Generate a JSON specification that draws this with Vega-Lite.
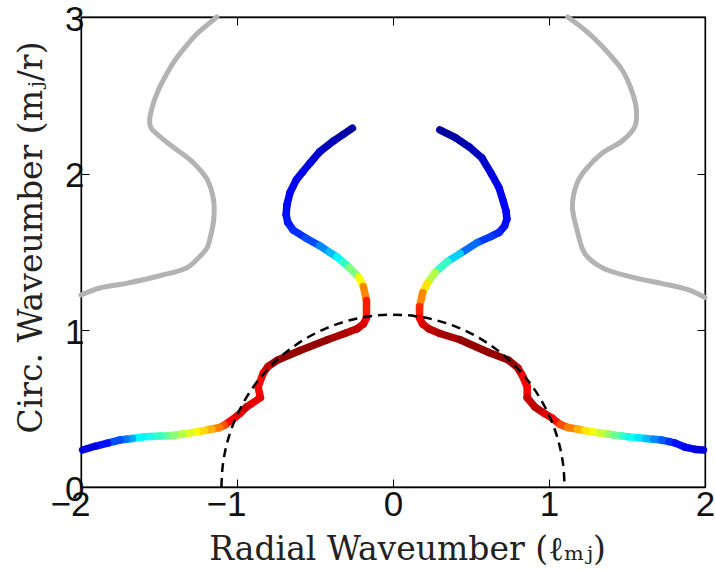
{
  "$schema": "https://vega.github.io/schema/vega-lite/v6.json",
  "autosize": "none",
  "width": 624,
  "height": 470,
  "padding": {"left": 81, "top": 17, "right": 10, "bottom": 84},
  "background": "white",
  "config": {
    "view": {"stroke": "black", "strokeWidth": 1.3},
    "axis": {
      "domainColor": "black", "domainWidth": 1.3,
      "tickColor": "black", "tickSize": -8, "tickWidth": 1,
      "labelFont": "Liberation Sans", "labelFontSize": 35, "labelColor": "#111", "labelFlush": false, "labelOverlap": false,
      "titleFont": "DejaVu Serif", "titleFontSize": 33, "titleFontWeight": "normal", "titleColor": "#222",
      "grid": false
    }
  },
  "datasets": {
    "gray": [
      {"s": "L", "i": 0, "x": -1.13, "y": 3.0},
      {"s": "L", "i": 1, "x": -1.19, "y": 2.95},
      {"s": "L", "i": 2, "x": -1.26, "y": 2.89},
      {"s": "L", "i": 3, "x": -1.33, "y": 2.81},
      {"s": "L", "i": 4, "x": -1.4, "y": 2.72},
      {"s": "L", "i": 5, "x": -1.46, "y": 2.62},
      {"s": "L", "i": 6, "x": -1.51, "y": 2.52},
      {"s": "L", "i": 7, "x": -1.545, "y": 2.42},
      {"s": "L", "i": 8, "x": -1.56, "y": 2.33},
      {"s": "L", "i": 9, "x": -1.55, "y": 2.29},
      {"s": "L", "i": 10, "x": -1.51, "y": 2.25},
      {"s": "L", "i": 11, "x": -1.41, "y": 2.17},
      {"s": "L", "i": 12, "x": -1.28, "y": 2.07},
      {"s": "L", "i": 13, "x": -1.19, "y": 1.96},
      {"s": "L", "i": 14, "x": -1.15, "y": 1.83},
      {"s": "L", "i": 15, "x": -1.15, "y": 1.7},
      {"s": "L", "i": 16, "x": -1.17, "y": 1.6},
      {"s": "L", "i": 17, "x": -1.19, "y": 1.53},
      {"s": "L", "i": 18, "x": -1.24, "y": 1.47},
      {"s": "L", "i": 19, "x": -1.32, "y": 1.4},
      {"s": "L", "i": 20, "x": -1.49, "y": 1.35},
      {"s": "L", "i": 21, "x": -1.71, "y": 1.3},
      {"s": "L", "i": 22, "x": -1.88, "y": 1.27},
      {"s": "L", "i": 23, "x": -2.0, "y": 1.225},
      {"s": "R", "i": 0, "x": 1.12, "y": 3.0},
      {"s": "R", "i": 1, "x": 1.25, "y": 2.9},
      {"s": "R", "i": 2, "x": 1.38, "y": 2.77},
      {"s": "R", "i": 3, "x": 1.47, "y": 2.66},
      {"s": "R", "i": 4, "x": 1.53, "y": 2.53},
      {"s": "R", "i": 5, "x": 1.56, "y": 2.41},
      {"s": "R", "i": 6, "x": 1.55, "y": 2.3},
      {"s": "R", "i": 7, "x": 1.47, "y": 2.21},
      {"s": "R", "i": 8, "x": 1.34, "y": 2.13},
      {"s": "R", "i": 9, "x": 1.23, "y": 2.02},
      {"s": "R", "i": 10, "x": 1.18, "y": 1.94},
      {"s": "R", "i": 11, "x": 1.15, "y": 1.79},
      {"s": "R", "i": 12, "x": 1.18, "y": 1.64},
      {"s": "R", "i": 13, "x": 1.23, "y": 1.49},
      {"s": "R", "i": 14, "x": 1.34, "y": 1.4},
      {"s": "R", "i": 15, "x": 1.53, "y": 1.34},
      {"s": "R", "i": 16, "x": 1.72, "y": 1.3},
      {"s": "R", "i": 17, "x": 1.89, "y": 1.26},
      {"s": "R", "i": 18, "x": 2.0, "y": 1.21}
    ],
    "colored": [
      {"s": "R", "i": 0, "x": 0.3, "y": 2.28, "c": 0.02},
      {"s": "R", "i": 1, "x": 0.4, "y": 2.23, "c": 0.03},
      {"s": "R", "i": 2, "x": 0.49, "y": 2.17, "c": 0.05},
      {"s": "R", "i": 3, "x": 0.57, "y": 2.1, "c": 0.07},
      {"s": "R", "i": 4, "x": 0.63, "y": 2.0, "c": 0.09},
      {"s": "R", "i": 5, "x": 0.68, "y": 1.91, "c": 0.11},
      {"s": "R", "i": 6, "x": 0.705, "y": 1.83, "c": 0.12},
      {"s": "R", "i": 7, "x": 0.725, "y": 1.76, "c": 0.125},
      {"s": "R", "i": 8, "x": 0.73, "y": 1.71, "c": 0.13},
      {"s": "R", "i": 9, "x": 0.715, "y": 1.665, "c": 0.14},
      {"s": "R", "i": 10, "x": 0.68, "y": 1.625, "c": 0.16},
      {"s": "R", "i": 11, "x": 0.63, "y": 1.6, "c": 0.18},
      {"s": "R", "i": 12, "x": 0.54, "y": 1.56, "c": 0.23},
      {"s": "R", "i": 13, "x": 0.43, "y": 1.49, "c": 0.33},
      {"s": "R", "i": 14, "x": 0.35, "y": 1.44, "c": 0.43},
      {"s": "R", "i": 15, "x": 0.27, "y": 1.37, "c": 0.55},
      {"s": "R", "i": 16, "x": 0.22, "y": 1.3, "c": 0.65},
      {"s": "R", "i": 17, "x": 0.19, "y": 1.24, "c": 0.74},
      {"s": "R", "i": 18, "x": 0.17, "y": 1.15, "c": 0.84},
      {"s": "R", "i": 19, "x": 0.17, "y": 1.08, "c": 0.88},
      {"s": "R", "i": 20, "x": 0.19, "y": 1.04, "c": 0.91},
      {"s": "R", "i": 21, "x": 0.23, "y": 1.01, "c": 0.94},
      {"s": "R", "i": 22, "x": 0.3, "y": 0.98, "c": 0.96},
      {"s": "R", "i": 23, "x": 0.43, "y": 0.94, "c": 0.98},
      {"s": "R", "i": 24, "x": 0.61, "y": 0.86, "c": 0.98},
      {"s": "R", "i": 25, "x": 0.74, "y": 0.81, "c": 0.97},
      {"s": "R", "i": 26, "x": 0.8, "y": 0.76, "c": 0.93},
      {"s": "R", "i": 27, "x": 0.83, "y": 0.71, "c": 0.88},
      {"s": "R", "i": 28, "x": 0.86, "y": 0.64, "c": 0.88},
      {"s": "R", "i": 29, "x": 0.86, "y": 0.57, "c": 0.93},
      {"s": "R", "i": 30, "x": 0.91, "y": 0.51, "c": 0.94},
      {"s": "R", "i": 31, "x": 0.97, "y": 0.47, "c": 0.9},
      {"s": "R", "i": 32, "x": 1.02, "y": 0.44, "c": 0.87},
      {"s": "R", "i": 33, "x": 1.07, "y": 0.4, "c": 0.8},
      {"s": "R", "i": 34, "x": 1.12, "y": 0.38, "c": 0.75},
      {"s": "R", "i": 35, "x": 1.18, "y": 0.37, "c": 0.7},
      {"s": "R", "i": 36, "x": 1.23, "y": 0.36, "c": 0.65},
      {"s": "R", "i": 37, "x": 1.28, "y": 0.352, "c": 0.61},
      {"s": "R", "i": 38, "x": 1.33, "y": 0.345, "c": 0.57},
      {"s": "R", "i": 39, "x": 1.38, "y": 0.338, "c": 0.52},
      {"s": "R", "i": 40, "x": 1.42, "y": 0.33, "c": 0.48},
      {"s": "R", "i": 41, "x": 1.47, "y": 0.325, "c": 0.43},
      {"s": "R", "i": 42, "x": 1.51, "y": 0.32, "c": 0.39},
      {"s": "R", "i": 43, "x": 1.57, "y": 0.315, "c": 0.35},
      {"s": "R", "i": 44, "x": 1.62, "y": 0.31, "c": 0.31},
      {"s": "R", "i": 45, "x": 1.67, "y": 0.305, "c": 0.26},
      {"s": "R", "i": 46, "x": 1.72, "y": 0.3, "c": 0.21},
      {"s": "R", "i": 47, "x": 1.77, "y": 0.29, "c": 0.17},
      {"s": "R", "i": 48, "x": 1.81, "y": 0.28, "c": 0.14},
      {"s": "R", "i": 49, "x": 1.87, "y": 0.255, "c": 0.11},
      {"s": "R", "i": 50, "x": 1.94, "y": 0.24, "c": 0.08},
      {"s": "R", "i": 51, "x": 1.99, "y": 0.236, "c": 0.05},
      {"s": "L", "i": 0, "x": -0.26, "y": 2.29, "c": 0.02},
      {"s": "L", "i": 1, "x": -0.32, "y": 2.25, "c": 0.03},
      {"s": "L", "i": 2, "x": -0.38, "y": 2.21, "c": 0.05},
      {"s": "L", "i": 3, "x": -0.47, "y": 2.14, "c": 0.07},
      {"s": "L", "i": 4, "x": -0.53, "y": 2.07, "c": 0.09},
      {"s": "L", "i": 5, "x": -0.58, "y": 2.01, "c": 0.1},
      {"s": "L", "i": 6, "x": -0.62, "y": 1.96, "c": 0.11},
      {"s": "L", "i": 7, "x": -0.66, "y": 1.88, "c": 0.12},
      {"s": "L", "i": 8, "x": -0.68, "y": 1.8, "c": 0.13},
      {"s": "L", "i": 9, "x": -0.685, "y": 1.74, "c": 0.14},
      {"s": "L", "i": 10, "x": -0.675, "y": 1.69, "c": 0.15},
      {"s": "L", "i": 11, "x": -0.64, "y": 1.64, "c": 0.17},
      {"s": "L", "i": 12, "x": -0.56, "y": 1.59, "c": 0.2},
      {"s": "L", "i": 13, "x": -0.47, "y": 1.54, "c": 0.26},
      {"s": "L", "i": 14, "x": -0.41, "y": 1.5, "c": 0.31},
      {"s": "L", "i": 15, "x": -0.36, "y": 1.47, "c": 0.37},
      {"s": "L", "i": 16, "x": -0.32, "y": 1.435, "c": 0.43},
      {"s": "L", "i": 17, "x": -0.28, "y": 1.4, "c": 0.5},
      {"s": "L", "i": 18, "x": -0.22, "y": 1.34, "c": 0.62},
      {"s": "L", "i": 19, "x": -0.19, "y": 1.28, "c": 0.74},
      {"s": "L", "i": 20, "x": -0.17, "y": 1.19, "c": 0.85},
      {"s": "L", "i": 21, "x": -0.17, "y": 1.08, "c": 0.88},
      {"s": "L", "i": 22, "x": -0.19, "y": 1.04, "c": 0.91},
      {"s": "L", "i": 23, "x": -0.23, "y": 1.01, "c": 0.94},
      {"s": "L", "i": 24, "x": -0.31, "y": 0.98, "c": 0.96},
      {"s": "L", "i": 25, "x": -0.42, "y": 0.94, "c": 0.98},
      {"s": "L", "i": 26, "x": -0.6, "y": 0.87, "c": 0.98},
      {"s": "L", "i": 27, "x": -0.74, "y": 0.81, "c": 0.97},
      {"s": "L", "i": 28, "x": -0.8, "y": 0.77, "c": 0.93},
      {"s": "L", "i": 29, "x": -0.83, "y": 0.73, "c": 0.88},
      {"s": "L", "i": 30, "x": -0.865, "y": 0.64, "c": 0.88},
      {"s": "L", "i": 31, "x": -0.85, "y": 0.57, "c": 0.9},
      {"s": "L", "i": 32, "x": -0.94, "y": 0.51, "c": 0.93},
      {"s": "L", "i": 33, "x": -0.98, "y": 0.47, "c": 0.9},
      {"s": "L", "i": 34, "x": -1.03, "y": 0.43, "c": 0.87},
      {"s": "L", "i": 35, "x": -1.08, "y": 0.395, "c": 0.8},
      {"s": "L", "i": 36, "x": -1.11, "y": 0.38, "c": 0.75},
      {"s": "L", "i": 37, "x": -1.16, "y": 0.37, "c": 0.7},
      {"s": "L", "i": 38, "x": -1.21, "y": 0.36, "c": 0.66},
      {"s": "L", "i": 39, "x": -1.26, "y": 0.352, "c": 0.62},
      {"s": "L", "i": 40, "x": -1.3, "y": 0.345, "c": 0.59},
      {"s": "L", "i": 41, "x": -1.35, "y": 0.338, "c": 0.55},
      {"s": "L", "i": 42, "x": -1.4, "y": 0.33, "c": 0.51},
      {"s": "L", "i": 43, "x": -1.45, "y": 0.327, "c": 0.47},
      {"s": "L", "i": 44, "x": -1.49, "y": 0.325, "c": 0.43},
      {"s": "L", "i": 45, "x": -1.55, "y": 0.322, "c": 0.4},
      {"s": "L", "i": 46, "x": -1.6, "y": 0.32, "c": 0.37},
      {"s": "L", "i": 47, "x": -1.67, "y": 0.31, "c": 0.29},
      {"s": "L", "i": 48, "x": -1.71, "y": 0.305, "c": 0.24},
      {"s": "L", "i": 49, "x": -1.75, "y": 0.3, "c": 0.2},
      {"s": "L", "i": 50, "x": -1.83, "y": 0.28, "c": 0.14},
      {"s": "L", "i": 51, "x": -1.91, "y": 0.26, "c": 0.09},
      {"s": "L", "i": 52, "x": -1.99, "y": 0.236, "c": 0.05}
    ],
    "circle": [
      {"i": 0, "x": -1.1, "y": 0.0},
      {"i": 1, "x": -1.0906, "y": 0.1436},
      {"i": 2, "x": -1.0625, "y": 0.2847},
      {"i": 3, "x": -1.0163, "y": 0.421},
      {"i": 4, "x": -0.9526, "y": 0.55},
      {"i": 5, "x": -0.8727, "y": 0.6696},
      {"i": 6, "x": -0.7778, "y": 0.7778},
      {"i": 7, "x": -0.6696, "y": 0.8727},
      {"i": 8, "x": -0.55, "y": 0.9526},
      {"i": 9, "x": -0.421, "y": 1.0163},
      {"i": 10, "x": -0.2847, "y": 1.0625},
      {"i": 11, "x": -0.1436, "y": 1.0906},
      {"i": 12, "x": 0.0, "y": 1.1},
      {"i": 13, "x": 0.1436, "y": 1.0906},
      {"i": 14, "x": 0.2847, "y": 1.0625},
      {"i": 15, "x": 0.421, "y": 1.0163},
      {"i": 16, "x": 0.55, "y": 0.9526},
      {"i": 17, "x": 0.6696, "y": 0.8727},
      {"i": 18, "x": 0.7778, "y": 0.7778},
      {"i": 19, "x": 0.8727, "y": 0.6696},
      {"i": 20, "x": 0.9526, "y": 0.55},
      {"i": 21, "x": 1.0163, "y": 0.421},
      {"i": 22, "x": 1.0625, "y": 0.2847},
      {"i": 23, "x": 1.0906, "y": 0.1436},
      {"i": 24, "x": 1.1, "y": 0.0}
    ]
  },
  "layer": [
    {
      "data": {"name": "gray"},
      "mark": {"type": "line", "color": "#b3b3b3", "strokeWidth": 5, "strokeCap": "round", "strokeJoin": "round", "interpolate": "catmull-rom"},
      "encoding": {
        "x": {"field": "x", "type": "quantitative", "scale": {"domain": [-2, 2], "nice": false, "zero": false},
              "axis": {"orient": "bottom", "values": [-2, -1, 0, 1, 2], "labelPadding": 8,
                       "labelOffset": {"condition": {"test": "datum.value < 0", "value": -11}, "value": 0},
                       "title": "Radial Waveumber (ℓₘⱼ)", "titlePadding": 11, "titleX": 326}},
        "y": {"field": "y", "type": "quantitative", "scale": {"domain": [0, 3], "nice": false, "zero": false},
              "axis": {"orient": "left", "values": [0, 1, 2, 3], "labelPadding": 5, "labelOffset": 2, "title": "Circ. Waveumber (mⱼ/r)", "titlePadding": 16, "titleY": 220}},
        "detail": {"field": "s"},
        "order": {"field": "i"}
      }
    },
    {
      "data": {"name": "colored"},
      "transform": [
        {"window": [{"op": "lead", "field": "x", "as": "x2"}, {"op": "lead", "field": "y", "as": "y2"}], "groupby": ["s"], "sort": [{"field": "i"}]},
        {"filter": "datum.x2 != null"}
      ],
      "mark": {"type": "rule", "strokeWidth": 7.5, "strokeCap": "round"},
      "encoding": {
        "x": {"field": "x", "type": "quantitative", "axis": null},
        "y": {"field": "y", "type": "quantitative", "axis": null},
        "x2": {"field": "x2"},
        "y2": {"field": "y2"},
        "color": {"field": "c", "type": "quantitative", "legend": null,
                  "scale": {"domain": [0, 0.125, 0.375, 0.625, 0.875, 1], "range": ["#00008f", "#0000ff", "#00ffff", "#ffff00", "#ff0000", "#800000"], "interpolate": "rgb"}}
      }
    },
    {
      "data": {"name": "circle"},
      "mark": {"type": "line", "color": "black", "strokeWidth": 2.5, "strokeDash": [9, 6], "interpolate": "catmull-rom"},
      "encoding": {
        "x": {"field": "x", "type": "quantitative", "axis": null},
        "y": {"field": "y", "type": "quantitative", "axis": null},
        "order": {"field": "i"}
      }
    },
    {
      "data": {"name": "circle"},
      "mark": {"type": "point", "opacity": 0},
      "encoding": {
        "x": {"field": "x", "type": "quantitative", "axis": {"orient": "top", "values": [-2, -1, 0, 1, 2], "labels": false, "title": null}},
        "y": {"field": "y", "type": "quantitative", "axis": {"orient": "right", "values": [0, 1, 2, 3], "labels": false, "title": null}}
      }
    }
  ],
  "resolve": {"axis": {"x": "independent", "y": "independent"}}
}
